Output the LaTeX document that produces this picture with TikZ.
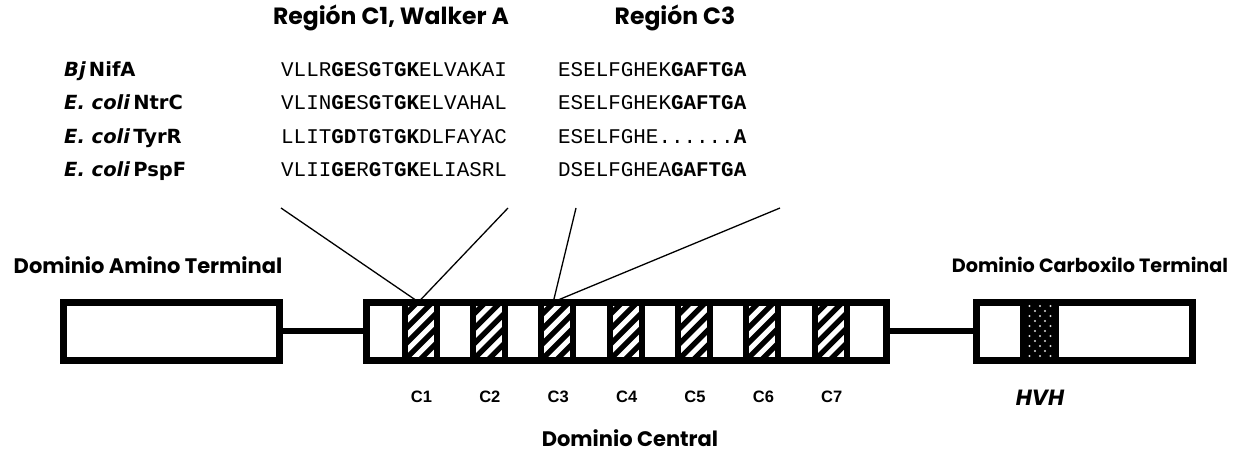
\documentclass[tikz,border=0pt]{standalone}
\usepackage{fontspec}
\newfontfamily\comicf{Poppins}
\newfontfamily\labf{DejaVu Sans}
\newfontfamily\arialf{Liberation Sans}
\newfontfamily\monof{Liberation Mono}
\usetikzlibrary{calc}

\tikzset{
  domainbox/.style={draw=black, fill=white, line width=7pt, minimum width=216pt,
    minimum height=58pt, inner sep=0pt, outer sep=0pt},
  linker/.style={line width=6.5pt},
  hatchcell/.style={draw=black, line width=6pt, minimum width=32pt, minimum height=58pt,
    inner sep=0pt, outer sep=0pt,
    path picture={
      \foreach \t in {-90,-75,...,45}
        \draw[line width=5.3pt] ([xshift=\t pt]path picture bounding box.south west) -- ++(90,-90);
    }},
  pointer/.style={line width=1.3pt},
  heading/.style={font=\comicf\bfseries\fontsize{21}{25}\selectfont, inner sep=0pt},
  title/.style={font=\comicf\bfseries\fontsize{23.5}{27}\selectfont, inner sep=0pt},
  species/.style={font=\labf\bfseries\fontsize{19.5}{23}\selectfont, anchor=base west, inner sep=0pt},
  seq/.style={font=\monof\fontsize{20.9}{24}\selectfont, anchor=base west, inner sep=0pt},
  clabel/.style={font=\arialf\bfseries\fontsize{16.5}{19}\selectfont, inner sep=0pt},
}

\begin{document}
\begin{tikzpicture}[x=1pt, y=-1pt]
\useasboundingbox[fill=white] (0,0) rectangle (1236,457);

% headings
\node[title] (hC1) at (391,18) {Región C1, Walker A};
\node[title] (hC3) at (675,18) {Región C3};

% species names
\node[species] (sp1) at (64,77) {\itshape Bj\upshape\,NifA};
\node[species] (sp2) at (64,110) {\itshape E. coli\upshape\,NtrC};
\node[species] (sp3) at (64,143.5) {\itshape E. coli\upshape\,TyrR};
\node[species] (sp4) at (64,177) {\itshape E. coli\upshape\,PspF};

% Walker A region sequences
\node[seq] (a1) at (281,77) {VLLR\textbf{GE}S\textbf{G}T\textbf{GK}ELVAKAI};
\node[seq] (a2) at (281,110) {VLIN\textbf{GE}S\textbf{G}T\textbf{GK}ELVAHAL};
\node[seq] (a3) at (281,143.5) {LLIT\textbf{GD}T\textbf{G}T\textbf{GK}DLFAYAC};
\node[seq] (a4) at (281,177) {VLII\textbf{GE}R\textbf{G}T\textbf{GK}ELIASRL};

% C3 region sequences
\node[seq] (b1) at (558,77) {ESELFGHEK\textbf{GAFTGA}};
\node[seq] (b2) at (558,110) {ESELFGHEK\textbf{GAFTGA}};
\node[seq] (b3) at (558,143.5) {ESELFGHE......\textbf{A}};
\node[seq] (b4) at (558,177) {DSELFGHEA\textbf{GAFTGA}};

% domain labels
\node[heading] (lN) at (148,265) {Dominio Amino Terminal};
\node[heading, font=\comicf\bfseries\fontsize{19.2}{23}\selectfont] (lC) at (1090,265) {Dominio Carboxilo Terminal};
\node[heading] (lM) at (630,438) {Dominio Central};

% domains
\node[domainbox] (amino) at (171.5,331) {};
\node[domainbox, minimum width=520pt] (central) at (626.5,331) {};
\node[domainbox] (carboxy) at (1084.5,331) {};

\draw[linker] (amino.east) -- (central.west);
\draw[linker] (central.east) -- (carboxy.west);

% conserved regions C1-C7
\foreach \i in {1,...,7} {
  \node[hatchcell] (c\i) at ({420.5+68.375*(\i-1)},331) {};
  \node[clabel] (lc\i) at ($(c\i.center)+(1,66)$) {C\i};
}

% redraw the central outline over the cells
\draw[line width=7pt] (central.south west) rectangle (central.north east);

% HTH motif in the C-terminal domain
\node[fill=black, minimum width=39pt, minimum height=65pt, inner sep=0pt] (hth) at (1039.5,331) {};
\foreach \r in {0,...,10} {
  \pgfmathsetmacro{\yy}{306+5*\r}
  \ifodd\r
    \foreach \xx in {1035,1045} \fill[white!85!black] (\xx,\yy) circle (1.1pt);
  \else
    \foreach \xx in {1029.5,1040,1050.5} \fill[white!85!black] (\xx,\yy) circle (1.1pt);
  \fi
}
\node[heading, font=\comicf\bfseries\itshape\fontsize{22}{26}\selectfont] (lhvh) at (1040,398) {HVH};

% pointers from the alignments to the domain
\coordinate (p1) at (281,208);
\coordinate (p2) at (508,208);
\coordinate (p3) at (576,208);
\coordinate (p4) at (780,208);
\draw[pointer] (p1) -- ([xshift=-2pt]c1.north) -- (p2);
\draw[pointer] (p3) -- ([xshift=-4pt]c3.north) -- (p4);
\end{tikzpicture}
\end{document}
